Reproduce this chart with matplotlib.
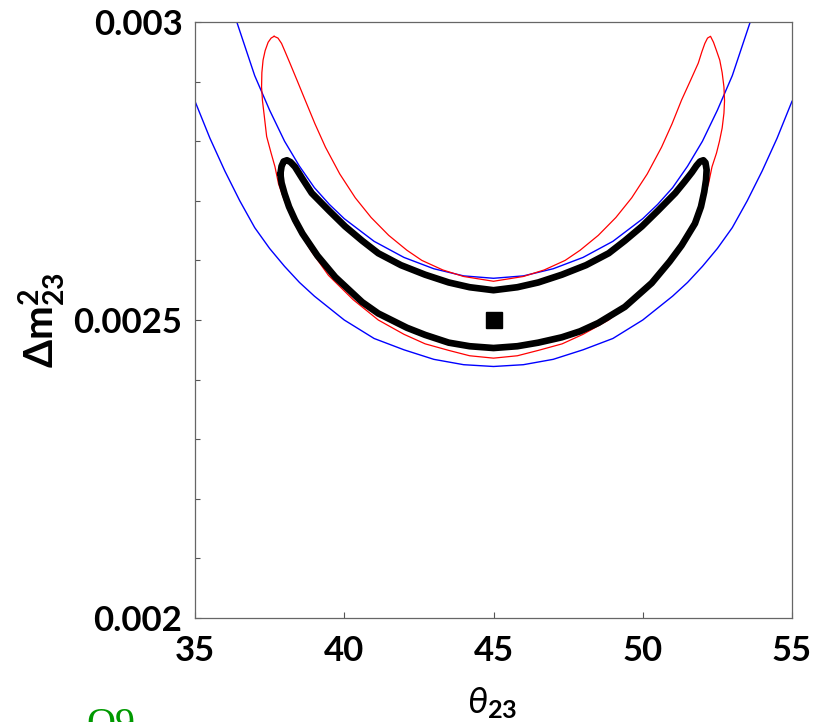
import matplotlib
matplotlib.use("Agg")
import matplotlib.pyplot as plt
from matplotlib.ticker import MultipleLocator

plt.rcParams["font.family"] = ["Lato", "DejaVu Sans"]
plt.rcParams["mathtext.fontset"] = "custom"
plt.rcParams["mathtext.rm"] = "Lato:bold"
plt.rcParams["mathtext.it"] = "Lato:italic"
plt.rcParams["mathtext.bf"] = "Lato:bold"

# upper boundary of the blue band
blue_upper_theta = [36.0, 36.4, 37.0, 37.5, 38.0, 38.5, 39.0, 39.5, 40.0, 41.0, 42.0, 43.0,
                    44.0, 45.0, 46.0, 47.0, 48.0, 49.0, 50.0, 50.5, 51.0, 51.5, 52.0,
                    52.5, 53.0, 53.6, 54.0]
blue_upper_dm2 = [0.003070, 0.003000, 0.002910, 0.002852, 0.002800, 0.002758, 0.002722,
                  0.002694, 0.002670, 0.002632, 0.002605, 0.002586, 0.002574, 0.002570,
                  0.002574, 0.002586, 0.002605, 0.002632, 0.002670, 0.002694, 0.002722,
                  0.002758, 0.002800, 0.002852, 0.002910, 0.003000, 0.003070]

# lower boundary of the blue band
blue_lower_theta = [35.0, 35.5, 36.0, 36.5, 37.0, 37.5, 38.0, 38.5, 39.0, 40.0, 41.0,
                    42.0, 43.0, 44.0, 45.0, 46.0, 47.0, 48.0, 49.0, 50.0, 51.0, 51.5,
                    52.0, 52.5, 53.0, 53.5, 54.0, 54.5, 55.0]
blue_lower_dm2 = [0.002867, 0.002805, 0.002750, 0.002700, 0.002655, 0.002620, 0.002590,
                  0.002563, 0.002540, 0.002500, 0.002469, 0.002450, 0.002434, 0.002425,
                  0.002422, 0.002425, 0.002434, 0.002450, 0.002469, 0.002500, 0.002540,
                  0.002563, 0.002590, 0.002620, 0.002655, 0.002700, 0.002750, 0.002805,
                  0.002867]

# red closed contour (left horn -> lower arc -> right horn -> upper arc)
red_theta = [37.65, 37.55, 37.45, 37.35, 37.28, 37.24, 37.23, 37.26, 37.31, 37.40, 37.55,
             37.68, 37.80, 38.00, 38.35, 38.90, 39.47, 40.30, 41.14, 42.00, 42.71, 43.50,
             44.20, 45.00, 45.80, 46.50, 47.30, 48.00, 48.86, 49.70, 50.53, 51.10, 51.65,
             52.00, 52.20, 52.32, 52.47, 52.57, 52.66, 52.72, 52.74, 52.72, 52.66, 52.58,
             52.47, 52.37, 52.27, 52.17, 52.08, 51.98, 51.86, 51.60, 51.30, 50.98, 50.63,
             50.15, 49.63, 49.10, 48.51, 47.90, 47.40, 46.70, 46.00, 45.00, 44.00, 43.30,
             42.60, 42.10, 41.49, 40.90, 40.37, 39.85, 39.37, 39.02, 38.69, 38.42, 38.18,
             38.02, 37.90, 37.78, 37.65]
red_dm2 = [0.002976, 0.002973, 0.002966, 0.002952, 0.002936, 0.002915, 0.002891, 0.002868,
           0.002847, 0.002808, 0.002780, 0.002757, 0.002728, 0.002700, 0.002660, 0.002615,
           0.002575, 0.002534, 0.002500, 0.002476, 0.002460, 0.002449, 0.002440, 0.002436,
           0.002440, 0.002449, 0.002460, 0.002476, 0.002500, 0.002534, 0.002575, 0.002615,
           0.002660, 0.002700, 0.002728, 0.002757, 0.002780, 0.002800, 0.002822, 0.002847,
           0.002868, 0.002891, 0.002915, 0.002936, 0.002952, 0.002966, 0.002976, 0.002973,
           0.002964, 0.002950, 0.002931, 0.002902, 0.002869, 0.002829, 0.002790, 0.002745,
           0.002705, 0.002672, 0.002642, 0.002617, 0.002600, 0.002584, 0.002573, 0.002565,
           0.002573, 0.002584, 0.002600, 0.002617, 0.002642, 0.002672, 0.002705, 0.002745,
           0.002790, 0.002829, 0.002869, 0.002902, 0.002931, 0.002950, 0.002964, 0.002973,
           0.002976]

# black thick contour (left tip -> upper arc -> right tip -> lower arc)
black_theta = [37.86, 37.90, 37.97, 38.08, 38.20, 38.35, 38.60, 38.91, 39.50, 40.03,
               40.60, 41.14, 41.90, 42.71, 43.50, 44.20, 45.00, 45.80, 46.50, 47.29,
               48.10, 48.86, 49.40, 49.97, 50.50, 51.09, 51.40, 51.65, 51.80, 51.92,
               52.03, 52.10, 52.14, 52.12, 52.06, 51.95, 51.75, 51.30, 50.90, 50.30,
               49.40, 48.51, 47.90, 47.29, 46.50, 45.80, 45.00, 44.20, 43.50, 42.71,
               42.10, 41.14, 40.60, 39.70, 39.10, 38.60, 38.35, 38.15, 38.00, 37.90, 37.86]
black_dm2 = [0.002745, 0.002758, 0.002766, 0.002768, 0.002765, 0.002757, 0.002737,
             0.002713, 0.002683, 0.002657, 0.002633, 0.002612, 0.002592, 0.002576,
             0.002563, 0.002555, 0.002550, 0.002555, 0.002563, 0.002576, 0.002592,
             0.002612, 0.002633, 0.002657, 0.002683, 0.002713, 0.002732, 0.002748,
             0.002759, 0.002766, 0.002768, 0.002764, 0.002752, 0.002735, 0.002715,
             0.002690, 0.002662, 0.002625, 0.002598, 0.002562, 0.002522, 0.002495,
             0.002481, 0.002471, 0.002462, 0.002456, 0.002453, 0.002456, 0.002462,
             0.002475, 0.002487, 0.002511, 0.002530, 0.002572, 0.002608, 0.002645,
             0.002668, 0.002690, 0.002712, 0.002730, 0.002745]

best_fit_theta = [45.0]
best_fit_dm2 = [0.0025]

x_ticks = [35, 40, 45, 50, 55]
y_ticks = [0.002, 0.0025, 0.003]
y_tick_labels = ["0.002", "0.0025", "0.003"]


def main() -> None:
    fig = plt.figure(figsize=(8.24, 7.22), dpi=100)
    ax = fig.add_axes([195 / 824, 1 - 618 / 722, 597 / 824, 596 / 722])

    ax.plot(blue_upper_theta, blue_upper_dm2, color="#0000ff", lw=1.0)
    ax.plot(blue_lower_theta, blue_lower_dm2, color="#0000ff", lw=1.0)
    ax.plot(red_theta, red_dm2, color="#ff0000", lw=0.9)
    ax.plot(black_theta, black_dm2, color="black", lw=4.8,
            solid_joinstyle="round", solid_capstyle="round")
    ax.plot(best_fit_theta, best_fit_dm2, "s", color="black", markersize=12)

    ax.set_xlim(35, 55)
    ax.set_ylim(0.002, 0.003)

    ax.set_xticks(x_ticks)
    ax.set_xticklabels([str(t) for t in x_ticks])
    ax.set_yticks(y_ticks)
    ax.set_yticklabels(y_tick_labels)
    ax.yaxis.set_minor_locator(MultipleLocator(0.0001))

    ax.tick_params(which="both", direction="in", top=False, right=False,
                   color="#555555", width=0.8)
    ax.tick_params(which="major", length=4.5, labelsize=25)
    ax.tick_params(axis="x", which="major", pad=12)
    ax.tick_params(axis="y", which="major", pad=9)
    ax.tick_params(which="minor", length=3.5)
    for label in ax.get_xticklabels() + ax.get_yticklabels():
        label.set_fontweight("bold")

    for spine in ax.spines.values():
        spine.set_color("#666666")
        spine.set_linewidth(0.9)

    ax.set_ylabel(r"$\Delta\mathrm{m}^{2}_{23}$", fontsize=29)
    ax.yaxis.set_label_coords(-0.256, 0.5)
    ax.yaxis.label.set_va("center")

    ax.set_xlabel(r"$\theta_{\mathbf{23}}$", fontsize=26)
    ax.xaxis.set_label_coords(0.4975, -0.143)
    ax.xaxis.label.set_va("center")

    fig.text(86 / 824, 1 - 735 / 722, "O9", color="#009900", fontsize=29,
             family="Liberation Serif", va="baseline", ha="left")

    fig.savefig("out.png", dpi=100)
    plt.close(fig)


if __name__ == "__main__":
    main()
